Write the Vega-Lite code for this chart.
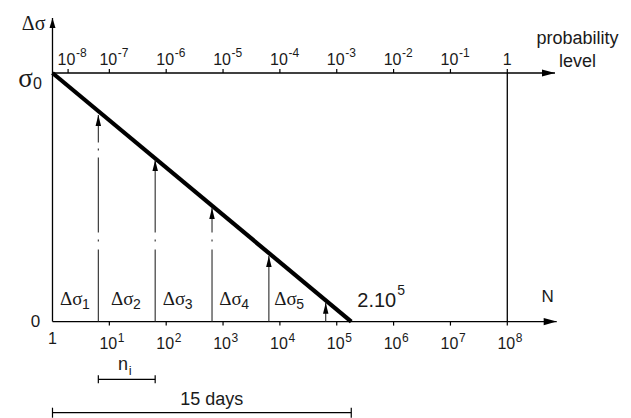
{
 "$schema": "https://vega.github.io/schema/vega-lite/v6.json",
 "width": 631, "height": 418, "autosize": {"type": "none"}, "padding": 0,
 "background": "white",
 "config": {"view": {"stroke": null}, "text": {"font": "Liberation Sans", "color": "#1a1a1a", "baseline": "alphabetic"}},
 "datasets": {
  "axes": [
   {"N": 1, "N2": 1, "s": 0, "s2": 1.2213},
   {"N": 1, "N2": 7.4e8, "s": 0, "s2": 0},
   {"N": 1, "N2": 6.9e8, "s": 1, "s2": 1},
   {"N": 1e8, "N2": 1e8, "s": 0, "s2": 1}
  ],
  "line": [{"N": 1, "s": 1}, {"N": 1.8e5, "s": 0}],
  "arrows": [
   {"N": 6.4, "s": 0, "tip": 0.831, "dash": "a"},
   {"N": 64, "s": 0, "tip": 0.650, "dash": "b"},
   {"N": 640, "s": 0, "tip": 0.457, "dash": "b"},
   {"N": 6400, "s": 0, "tip": 0.264, "dash": "c"},
   {"N": 64000, "s": 0, "tip": 0.076, "dash": "c"}
  ],
  "ndec": [
   {"N": 10, "s": 0, "e": "1"}, {"N": 100, "s": 0, "e": "2"}, {"N": 1000, "s": 0, "e": "3"}, {"N": 10000, "s": 0, "e": "4"},
   {"N": 100000, "s": 0, "e": "5"}, {"N": 1000000, "s": 0, "e": "6"}, {"N": 10000000, "s": 0, "e": "7"}, {"N": 100000000, "s": 0, "e": "8"}
  ],
  "pdec": [
   {"p": 1e-7, "s": 1, "e": "-7"}, {"p": 1e-6, "s": 1, "e": "-6"}, {"p": 1e-5, "s": 1, "e": "-5"}, {"p": 1e-4, "s": 1, "e": "-4"},
   {"p": 1e-3, "s": 1, "e": "-3"}, {"p": 1e-2, "s": 1, "e": "-2"}, {"p": 1e-1, "s": 1, "e": "-1"}, {"p": 1, "s": 1, "e": ""}
  ],
  "dlab": [
   {"N": 1.355, "s": 0, "sub": "1"}, {"N": 10.68, "s": 0, "sub": "2"}, {"N": 86.8, "s": 0, "sub": "3"},
   {"N": 859, "s": 0, "sub": "4"}, {"N": 7965, "s": 0, "sub": "5"}
  ],
  "ni": [{"N": 6.4, "N2": 64, "s": -0.2323}],
  "days": [{"N": 1, "N2": 180000, "s": -0.3665}]
 },
 "resolve": {"scale": {"x": "independent"}},
 "layer": [
  {
   "encoding": {
    "x": {"field": "N", "type": "quantitative", "scale": {"type": "log", "domain": [0.1193, 1.5e10], "nice": false}, "axis": null},
    "y": {"field": "s", "type": "quantitative", "scale": {"domain": [-0.3878, 1.2937], "nice": false, "zero": false}, "axis": null}
   },
   "layer": [
    {"data": {"name": "axes"}, "mark": {"type": "rule", "color": "#000", "strokeWidth": 1.3},
     "encoding": {"x2": {"field": "N2"}, "y2": {"field": "s2"}}},
    {"data": {"name": "line"}, "mark": {"type": "line", "color": "#000", "strokeWidth": 4.2, "strokeCap": "butt"}, "encoding": {}},
    {"data": {"name": "arrows"}, "mark": {"type": "rule", "color": "#2a2a2a", "strokeWidth": 1.1},
     "encoding": {
      "y2": {"field": "tip"},
      "strokeDash": {"field": "dash", "type": "nominal", "scale": {"domain": ["a", "b", "c"], "range": [[72, 8, 2, 7, 75, 7, 2, 6, 600], [72, 8, 2, 7, 600], [600, 0]]}, "legend": null}
     }},
    {"data": {"name": "arrows"}, "mark": {"type": "point", "shape": "M0,0L0.55,2.2L-0.55,2.2Z", "size": 100, "filled": true, "color": "#000", "opacity": 1, "strokeWidth": 0},
     "encoding": {"y": {"field": "tip", "type": "quantitative", "scale": {"domain": [-0.3878, 1.2937], "nice": false, "zero": false}, "axis": null}}},
    {"data": {"name": "axes"}, "transform": [{"filter": "datum.s2 > 1.1"}], "mark": {"type": "point", "shape": "M0,0L0.6,2L-0.6,2Z", "size": 100, "filled": true, "color": "#000", "opacity": 1, "strokeWidth": 0},
     "encoding": {"y": {"field": "s2", "type": "quantitative", "scale": {"domain": [-0.3878, 1.2937], "nice": false, "zero": false}, "axis": null}}},
    {"data": {"name": "axes"}, "transform": [{"filter": "datum.N2 > 1e8"}], "mark": {"type": "point", "shape": "M0,0L-2,-0.55L-2,0.55Z", "size": 169, "filled": true, "color": "#000", "opacity": 1, "strokeWidth": 0},
     "encoding": {"x": {"field": "N2", "type": "quantitative", "scale": {"type": "log", "domain": [0.1193, 1.5e10], "nice": false}, "axis": null}}},
    {"data": {"name": "ndec"}, "mark": {"type": "point", "shape": "M0,0L0,1", "size": 64, "filled": false, "color": "#000", "strokeWidth": 1.2, "opacity": 1}},
    {"data": {"name": "ndec"}, "mark": {"type": "text", "text": "10", "fontSize": 16, "align": "center", "dx": -1, "dy": 27.4}},
    {"data": {"name": "ndec"}, "mark": {"type": "text", "fontSize": 12, "align": "left", "dx": 8.5, "dy": 20}, "encoding": {"text": {"field": "e"}}},
    {"data": {"name": "dlab"}, "mark": {"type": "text", "text": "Δσ", "font": "Liberation Serif", "fontSize": 19, "align": "left", "dy": -16.6}},
    {"data": {"name": "dlab"}, "mark": {"type": "text", "fontSize": 14, "align": "left", "dx": 22, "dy": -13}, "encoding": {"text": {"field": "sub"}}},
    {"data": {"name": "axes"}, "transform": [{"filter": "datum.s2 > 1.1"}], "mark": {"type": "text", "text": "Δσ", "font": "Liberation Serif", "fontSize": 20, "align": "right", "dx": -7, "dy": 12.5},
     "encoding": {"y": {"field": "s2", "type": "quantitative", "scale": {"domain": [-0.3878, 1.2937], "nice": false, "zero": false}, "axis": null}}},
    {"data": {"name": "axes"}, "transform": [{"filter": "datum.s2 > 1.1"}], "mark": {"type": "text", "text": "1", "fontSize": 16, "align": "center", "dy": 22}},
    {"data": {"name": "axes"}, "transform": [{"filter": "datum.s2 > 1.1"}], "mark": {"type": "text", "text": "0", "fontSize": 17, "align": "center", "baseline": "middle", "dx": -17}},
    {"data": {"name": "line"}, "transform": [{"filter": "datum.N == 1"}], "mark": {"type": "text", "text": "σ", "font": "Liberation Serif", "fontSize": 27, "align": "center", "dx": -27, "dy": 14}},
    {"data": {"name": "line"}, "transform": [{"filter": "datum.N == 1"}], "mark": {"type": "text", "text": "0", "fontSize": 16, "align": "left", "dx": -19.5, "dy": 15.5}},
    {"data": {"name": "line"}, "transform": [{"filter": "datum.N > 1"}], "mark": {"type": "text", "text": "2.10", "fontSize": 20, "align": "left", "dx": 6, "dy": -15}},
    {"data": {"name": "line"}, "transform": [{"filter": "datum.N > 1"}], "mark": {"type": "text", "text": "5", "fontSize": 14, "align": "left", "dx": 46, "dy": -26.5}},
    {"data": {"name": "axes"}, "transform": [{"filter": "datum.N2 > 1e8 && datum.s == 0"}], "mark": {"type": "text", "text": "N", "fontSize": 17, "align": "center", "dx": -9, "dy": -20},
     "encoding": {"x": {"field": "N2", "type": "quantitative", "scale": {"type": "log", "domain": [0.1193, 1.5e10], "nice": false}, "axis": null}}},
    {"data": {"name": "axes"}, "transform": [{"filter": "datum.N2 > 1e8 && datum.s == 1"}], "mark": {"type": "text", "text": ["probability", "level"], "lineHeight": 22.7, "fontSize": 18, "align": "center", "dx": 22.5, "dy": -29},
     "encoding": {"x": {"field": "N2", "type": "quantitative", "scale": {"type": "log", "domain": [0.1193, 1.5e10], "nice": false}, "axis": null}}},
    {"data": {"name": "ni"}, "mark": {"type": "rule", "color": "#000", "strokeWidth": 1.2}, "encoding": {"x2": {"field": "N2"}}},
    {"data": {"name": "ni"}, "mark": {"type": "point", "shape": "M0,-1L0,1", "size": 64, "filled": false, "color": "#000", "strokeWidth": 1.2, "opacity": 1}},
    {"data": {"name": "ni"}, "mark": {"type": "point", "shape": "M0,-1L0,1", "size": 64, "filled": false, "color": "#000", "strokeWidth": 1.2, "opacity": 1},
     "encoding": {"x": {"field": "N2", "type": "quantitative", "scale": {"type": "log", "domain": [0.1193, 1.5e10], "nice": false}, "axis": null}}},
    {"data": {"name": "ni"}, "mark": {"type": "text", "text": "n", "fontSize": 18, "align": "center", "dx": 24.7, "dy": -9.3}},
    {"data": {"name": "ni"}, "mark": {"type": "text", "text": "i", "fontSize": 13, "align": "left", "dx": 30.5, "dy": -4.3}},
    {"data": {"name": "days"}, "mark": {"type": "rule", "color": "#000", "strokeWidth": 1.2}, "encoding": {"x2": {"field": "N2"}}},
    {"data": {"name": "days"}, "mark": {"type": "point", "shape": "M0,-1L0,1", "size": 100, "filled": false, "color": "#000", "strokeWidth": 1.2, "opacity": 1}},
    {"data": {"name": "days"}, "mark": {"type": "point", "shape": "M0,-1L0,1", "size": 100, "filled": false, "color": "#000", "strokeWidth": 1.2, "opacity": 1},
     "encoding": {"x": {"field": "N2", "type": "quantitative", "scale": {"type": "log", "domain": [0.1193, 1.5e10], "nice": false}, "axis": null}}},
    {"data": {"name": "days"}, "mark": {"type": "text", "text": "15 days", "fontSize": 18, "align": "center", "dx": 159.2, "dy": -7.7}}
   ]
  },
  {
   "data": {"name": "pdec"},
   "encoding": {
    "x": {"field": "p", "type": "quantitative", "scale": {"type": "log", "domain": [1.193e-9, 150], "nice": false}, "axis": null},
    "y": {"field": "s", "type": "quantitative", "scale": {"domain": [-0.3878, 1.2937], "nice": false, "zero": false}, "axis": null}
   },
   "layer": [
    {"mark": {"type": "point", "shape": "M0,0L0,-1", "size": 64, "filled": false, "color": "#000", "strokeWidth": 1.2, "opacity": 1}},
    {"transform": [{"filter": "datum.p < 0.5"}], "mark": {"type": "text", "text": "10", "fontSize": 16, "align": "center", "dx": -1, "dy": -8}},
    {"transform": [{"filter": "datum.p < 0.5"}], "mark": {"type": "text", "fontSize": 12, "align": "left", "dx": 8.5, "dy": -16}, "encoding": {"text": {"field": "e"}}},
    {"transform": [{"filter": "datum.p > 0.5"}], "mark": {"type": "text", "text": "1", "fontSize": 16, "align": "center", "dy": -8}},
    {"data": {"values": [{"p": 1e-8, "s": 1}]}, "mark": {"type": "point", "shape": "M3.9,0L3.9,-1", "size": 64, "filled": false, "color": "#000", "strokeWidth": 1.2, "opacity": 1}},
    {"data": {"values": [{"p": 1e-8, "s": 1}]}, "mark": {"type": "text", "text": "10", "fontSize": 16, "align": "center", "dx": 14, "dy": -8}},
    {"data": {"values": [{"p": 1e-8, "s": 1}]}, "mark": {"type": "text", "text": "-8", "fontSize": 12, "align": "left", "dx": 23.5, "dy": -16}}
   ]
  }
 ]
}
